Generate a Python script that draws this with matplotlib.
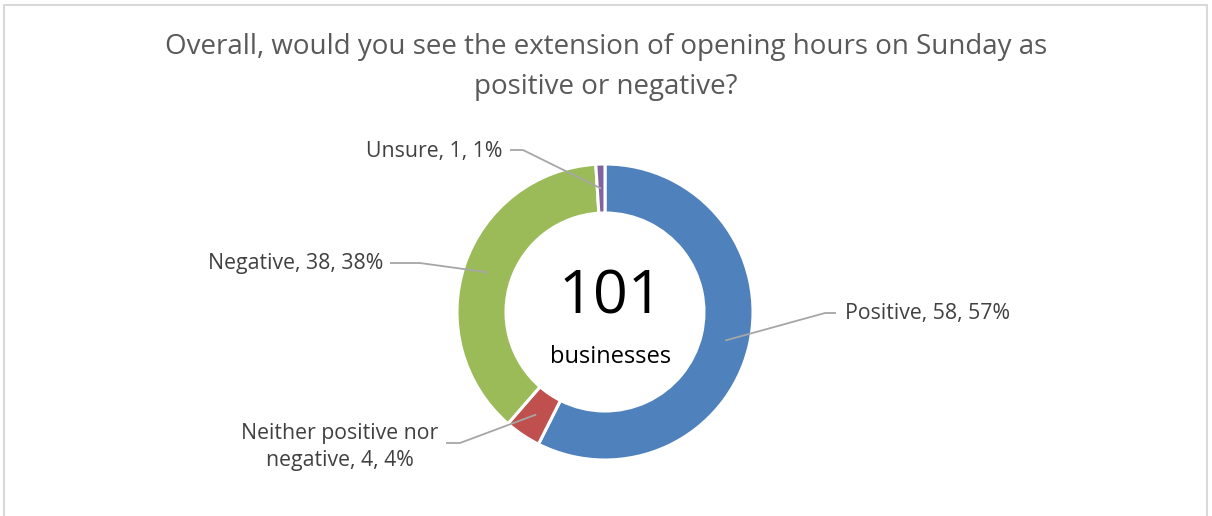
import numpy as np
import matplotlib
matplotlib.use("Agg")
import matplotlib.pyplot as plt
from matplotlib.patches import Rectangle

categories = ["Positive", "Neither positive nor\nnegative", "Negative", "Unsure"]
counts = [58, 4, 38, 1]
colors = ["#4F81BD", "#C0504D", "#9BBB59", "#8064A2"]
title = "Overall, would you see the extension of opening hours on Sunday as\npositive or negative?"
center_number = "101"
center_text = "businesses"

W, H = 1212, 516
fig = plt.figure(figsize=(W / 100, H / 100), dpi=100)
ax = fig.add_axes([0, 0, 1, 1])

plt.rcParams["font.family"] = ["Open Sans", "DejaVu Sans"]
FONT = ["Open Sans", "DejaVu Sans"]

# border
fig.patches.append(Rectangle((4 / W, -0.1), (1207 - 4) / W, (H - 5) / H + 0.1,
                             transform=fig.transFigure, fill=False,
                             edgecolor="#D9D9D9", linewidth=1.5))

cx, cy = 605, H - 312
R = 148
ring = 49
ax.pie(counts, colors=colors, startangle=90, counterclock=False,
       center=(cx, cy), radius=R, frame=True,
       wedgeprops=dict(width=ring, edgecolor="white", linewidth=2.2))
ax.set_xlim(0, W)
ax.set_ylim(0, H)
ax.set_aspect("equal")
ax.axis("off")

total = sum(counts)
# label layout: (elbow x, elbow y, line end x, text x, ha)
layout = [
    (825, H - 313, 836, 845, "left"),
    (460, H - 443, 446, 440, "right"),
    (420, H - 263, 390, 383, "right"),
    (523, H - 150, 510, 502, "right"),
]
cum = 0
line_col = "#A6A6A6"
LFS = 15.3
for cat, n, (ex, ey, lx, tx, ha) in zip(categories, counts, layout):
    mid = (cum + n / 2) / total
    cum += n
    ang = np.deg2rad(90 - 360 * mid)
    rr = R - ring / 2
    px, py = cx + rr * np.cos(ang), cy + rr * np.sin(ang)
    ax.plot([px, ex, lx], [py, ey, ey], color=line_col, lw=1.3,
            solid_capstyle="butt", zorder=5)
    pct = round(100 * n / total)
    label = f"{cat}, {n}, {pct}%"
    if "\n" in cat:
        ax.text(340, H - 447, label, ha="center", va="center", fontsize=LFS,
                color="#404040", family=FONT, linespacing=1.4)
    else:
        ax.text(tx, ey - 1, label, ha=ha, va="center", fontsize=LFS,
                color="#404040", family=FONT)

ax.text(cx + 6, H - 297, center_number, ha="center", va="center",
        fontsize=44, color="black", family=FONT)
ax.text(cx + 6, H - 357, center_text, ha="center", va="center",
        fontsize=17, color="black", family=FONT)

fig.text(606 / W, 1 - 67 / H, title, ha="center", va="center",
         fontsize=20, color="#595959", family=FONT, linespacing=1.55)

fig.savefig("out.png", dpi=100)
